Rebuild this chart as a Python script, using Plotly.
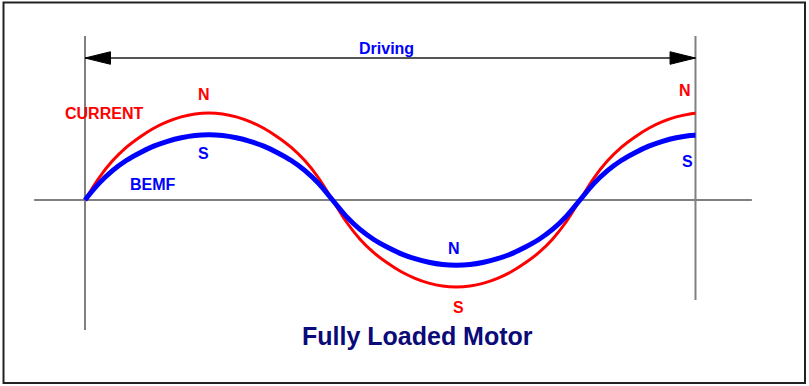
import plotly.graph_objects as go

# Electrical angle (degrees) over the driving interval
angle_deg = [0, 10, 20, 30, 40, 50, 60, 70, 80, 90, 100, 110, 120, 130, 140, 150, 160, 170,
             180, 190, 200, 210, 220, 230, 240, 250, 260, 270, 280, 290, 300, 310, 320, 330, 340, 350,
             360, 370, 380, 390, 400, 410, 420, 430, 440, 444]
# Phase current (normalized)
current = [0.000, 0.250, 0.450, 0.605, 0.725, 0.825, 0.900, 0.955, 0.989, 1.000,
           0.989, 0.955, 0.900, 0.825, 0.725, 0.605, 0.450, 0.250,
           0.000, -0.250, -0.450, -0.605, -0.725, -0.825, -0.900, -0.955, -0.989, -1.000,
           -0.989, -0.955, -0.900, -0.825, -0.725, -0.605, -0.450, -0.250,
           0.000, 0.250, 0.450, 0.605, 0.725, 0.825, 0.900, 0.955, 0.989, 0.996]
# Back EMF (normalized)
bemf = [0.000, 0.188, 0.338, 0.454, 0.544, 0.619, 0.675, 0.716, 0.742, 0.750,
        0.742, 0.716, 0.675, 0.619, 0.544, 0.454, 0.338, 0.188,
        0.000, -0.188, -0.338, -0.454, -0.544, -0.619, -0.675, -0.716, -0.742, -0.750,
        -0.742, -0.716, -0.675, -0.619, -0.544, -0.454, -0.338, -0.188,
        0.000, 0.188, 0.338, 0.454, 0.544, 0.619, 0.675, 0.716, 0.742, 0.745]

drive_start, drive_end = angle_deg[0], angle_deg[-1]

RED = "#ff0000"
BLUE = "#0000ff"
GRAY = "#808080"
NAVY = "#0a0a78"
FONT = "Liberation Sans, Arial, sans-serif"

fig = go.Figure()
fig.add_trace(go.Scatter(x=angle_deg, y=current, mode="lines",
                         line=dict(color=RED, width=3, shape="spline", smoothing=1.0),
                         hoverinfo="skip", showlegend=False))
fig.add_trace(go.Scatter(x=angle_deg, y=bemf, mode="lines",
                         line=dict(color=BLUE, width=5, shape="spline", smoothing=1.0),
                         hoverinfo="skip", showlegend=False))

shapes = []
# horizontal zero axis
shapes.append(dict(type="line", x0=-37, x1=485, y0=0, y1=0, layer="below",
                   line=dict(color=GRAY, width=2)))
# vertical boundary lines
shapes.append(dict(type="line", x0=drive_start, x1=drive_start, y0=1.885, y1=-1.494,
                   layer="below", line=dict(color=GRAY, width=2)))
shapes.append(dict(type="line", x0=drive_end, x1=drive_end, y0=1.885, y1=-1.149,
                   layer="below", line=dict(color=GRAY, width=2)))
# driving arrow
ay = 1.632
shapes.append(dict(type="line", x0=drive_start, x1=drive_end, y0=ay, y1=ay,
                   line=dict(color="#555555", width=2)))
hl, hh = 18.5, 0.072
shapes.append(dict(type="path",
                   path=f"M {drive_start},{ay} L {drive_start+hl},{ay+hh} L {drive_start+hl},{ay-hh} Z",
                   fillcolor="black", line=dict(color="black", width=1)))
shapes.append(dict(type="path",
                   path=f"M {drive_end},{ay} L {drive_end-hl},{ay+hh} L {drive_end-hl},{ay-hh} Z",
                   fillcolor="black", line=dict(color="black", width=1)))
# border
shapes.append(dict(type="rect", xref="paper", yref="paper",
                   x0=3.5/809, x1=805/809, y0=1-2.5/386, y1=1-383/386,
                   line=dict(color="#222222", width=2)))

labels = [
    ("Driving", 219.6, 1.747, BLUE, 16),
    ("CURRENT", 13.8, 0.989, RED, 16),
    ("N", 86.5, 1.218, RED, 16),
    ("S", 86.5, 0.540, BLUE, 16),
    ("BEMF", 49.5, 0.184, BLUE, 16),
    ("N", 268.4, -0.552, BLUE, 16),
    ("S", 271.3, -1.241, RED, 16),
    ("N", 436.4, 1.264, RED, 16),
    ("S", 438.5, 0.437, BLUE, 16),
]
annotations = [dict(text=f"<b>{t}</b>", x=x, y=y, showarrow=False,
                    xanchor="center", yanchor="middle",
                    font=dict(family=FONT, size=s, color=c))
               for t, x, y, c, s in labels]
annotations.append(dict(text="<b>Fully Loaded Motor</b>", x=241.5, y=-1.563,
                        showarrow=False, xanchor="center", yanchor="middle",
                        font=dict(family=FONT, size=25, color=NAVY)))

fig.update_layout(
    width=809, height=386,
    margin=dict(l=0, r=0, t=0, b=0),
    paper_bgcolor="white", plot_bgcolor="white",
    xaxis=dict(range=[-61.82, 526.55], visible=False, fixedrange=True),
    yaxis=dict(range=[-2.138, 2.299], visible=False, fixedrange=True),
    shapes=shapes, annotations=annotations, showlegend=False,
)

fig.write_html("out.html", config={"displayModeBar": False},
               post_script="document.body.style.margin='0';document.body.style.overflow='hidden';")
